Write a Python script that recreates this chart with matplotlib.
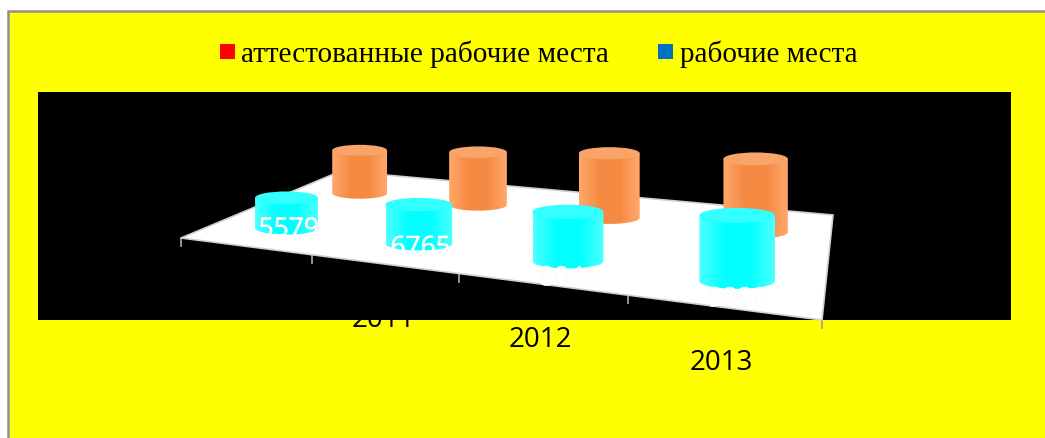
import numpy as np
import matplotlib
matplotlib.use('Agg')
import matplotlib.pyplot as plt
import matplotlib.patheffects as pe
from matplotlib.patches import Rectangle, Polygon, Ellipse
from matplotlib.path import Path
from matplotlib.colors import LinearSegmentedColormap

# data (rear series and the last digits are estimates)
years = ['2010', '2011', '2012', '2013']
attested = [5579, 6765, 8041, 9990]
workplaces = [9000, 10500, 12200, 13100]
legend_names = ['аттестованные рабочие места', 'рабочие места']
legend_colors = ['#ff0000', '#0070c0']

W, H = 1045, 438

# floor plane of the 3d plot, category position u (0..4) and depth v (0..1) to pixels
src = [(0, 0), (4, 0), (4, 1), (0, 1)]
dst = [(181, 238), (822, 320), (833, 215), (341, 171)]
A, b = [], []
for (u, v), (x, y) in zip(src, dst):
    A.append([u, v, 1, 0, 0, 0, -u * x, -v * x])
    A.append([0, 0, 0, u, v, 1, -u * y, -v * y])
    b += [x, y]
h = np.append(np.linalg.solve(np.array(A, float), np.array(b, float)), 1).reshape(3, 3)


def project(u, v):
    p = h @ np.array([u, v, 1.0])
    return p[0] / p[2], p[1] / p[2]


def scale_at(u, v):
    # nearer to the viewer means bigger
    return 1 / (h[2] @ np.array([u, v, 1.0])) * h[2, 2]


def cylinder(ax, u, v, value, edge, mid, top, z):
    cx, cy = project(u, v)
    w = 65 * scale_at(u, v)
    bh = value / 1000 * 0.087 * w
    eh = w * 0.2
    t = np.linspace(0, np.pi, 40)
    bottom = np.c_[cx + w / 2 * np.cos(t), cy + eh / 2 * np.sin(t)]
    upper = [(cx - w / 2, cy - bh), (cx + w / 2, cy - bh)]
    verts = np.vstack([bottom, upper, bottom[:1]])
    cmap = LinearSegmentedColormap.from_list('c', [edge, mid, mid, edge])
    im = ax.imshow(np.linspace(0, 1, 64).reshape(1, -1), cmap=cmap, aspect='auto',
                   extent=(cx - w / 2, cx + w / 2, cy + eh, cy - bh), zorder=z)
    im.set_clip_path(Path(verts), transform=ax.transData)
    ax.add_patch(Ellipse((cx, cy - bh), w, eh, fc=top, ec='none', zorder=z + 0.1))


fig = plt.figure(figsize=(W / 100, H / 100), dpi=100, facecolor='white')
ax = fig.add_axes([0, 0, 1, 1])
ax.axis('off')

ax.add_patch(Rectangle((7.5, 11), W, H, fc='#ffff00', ec='#909090', lw=1.8, zorder=0))

# category labels sit under the floor, the black plot area hides part of them
for i, year in enumerate(years):
    x, y = project(i + 0.5, 0)
    ax.text(x, y + 56, year, family='Open Sans', fontsize=20, ha='center', va='center', color='black', zorder=1)

ax.add_patch(Rectangle((38, 92), 973, 228, fc='black', ec='none', zorder=2))

for i in range(len(years) + 1):
    x, y = project(i, 0)
    ax.plot([x, x], [y, y + 8], color='#a0a0a0', lw=1.3, zorder=2.5)

floor = [project(*p) for p in src]
ax.add_patch(Polygon(floor, closed=True, fc='white', ec='#d0d0d0', lw=1.2, zorder=3))

for i, val in enumerate(workplaces):
    cylinder(ax, i + 0.5 + 0.03, 0.7, val, '#ffa76b', '#f58a42', '#f9a468', 4 + i)
for i, val in enumerate(attested):
    cylinder(ax, i + 0.5 + 0.03, 0.21, val, '#4dffff', '#00ffff', '#33ffff', 10 + i)

label_dy = [2, 5, 18, 19]
for i, val in enumerate(attested):
    x, y = project(i + 0.5, 0.21)
    ax.text(x + 6, y + label_dy[i], str(val), family='Open Sans', fontsize=19, color='white',
            ha='center', va='center', zorder=20,
            path_effects=[pe.withStroke(linewidth=0.4, foreground='#f0f0f0')])

# legend
ax.add_patch(Rectangle((220, 44), 15, 15, fc=legend_colors[0], ec='none', zorder=5))
ax.text(241, 62, legend_names[0], family='Liberation Serif', fontsize=21.1, va='baseline', color='black', zorder=5)
ax.add_patch(Rectangle((658, 44), 15, 15, fc=legend_colors[1], ec='none', zorder=5))
ax.text(680, 62, legend_names[1], family='Liberation Serif', fontsize=21, va='baseline', color='black', zorder=5)

ax.set_xlim(0, W)
ax.set_ylim(H, 0)
fig.savefig('out.png', dpi=100, facecolor='white')
